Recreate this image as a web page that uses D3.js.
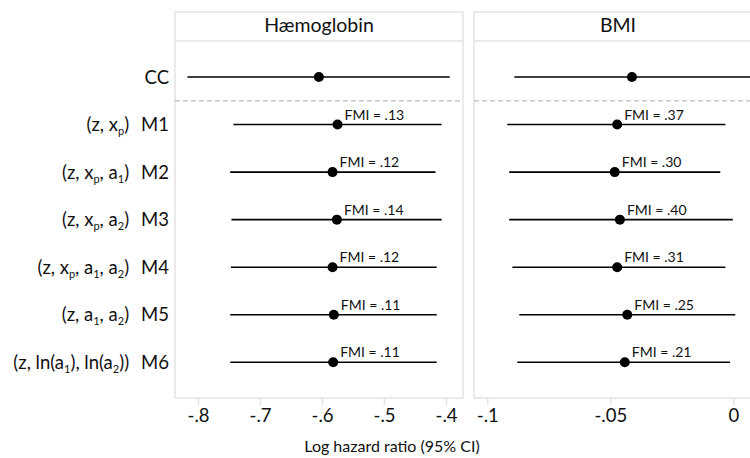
<!DOCTYPE html>
<html>
<head>
<meta charset="utf-8">
<script src="https://cdn.jsdelivr.net/npm/d3@7"></script>
<style>
  html, body { margin: 0; padding: 0; background: #fff; }
  svg { display: block; font-family: Lato, "Open Sans", sans-serif; }
</style>
</head>
<body>
<div id="chart"></div>
<script>
// Model labels: prefix parts (with subscripts) and model name
const rowLabels = [
  { parts: [], name: "CC" },
  { parts: [["(z, x", ""], ["p", "sub"], [")", ""]], name: "M1" },
  { parts: [["(z, x", ""], ["p", "sub"], [", a", ""], ["1", "sub"], [")", ""]], name: "M2" },
  { parts: [["(z, x", ""], ["p", "sub"], [", a", ""], ["2", "sub"], [")", ""]], name: "M3" },
  { parts: [["(z, x", ""], ["p", "sub"], [", a", ""], ["1", "sub"], [", a", ""], ["2", "sub"], [")", ""]], name: "M4" },
  { parts: [["(z, a", ""], ["1", "sub"], [", a", ""], ["2", "sub"], [")", ""]], name: "M5" },
  { parts: [["(z, ln(a", ""], ["1", "sub"], ["), ln(a", ""], ["2", "sub"], ["))", ""]], name: "M6" }
];
const models = ["CC", "M1", "M2", "M3", "M4", "M5", "M6"];

// Haemoglobin: estimate, lower, upper, FMI
const hbEst   = [-0.605, -0.575, -0.583, -0.576, -0.583, -0.581, -0.582];
const hbLow   = [-0.817, -0.743, -0.748, -0.746, -0.747, -0.748, -0.748];
const hbHigh  = [-0.394, -0.407, -0.417, -0.407, -0.415, -0.415, -0.415];
const hbFmi   = [null, ".13", ".12", ".14", ".12", ".11", ".11"];

// BMI: estimate, lower, upper, FMI
const bmiEst  = [-0.0412, -0.0472, -0.0482, -0.0461, -0.0472, -0.0431, -0.0441];
const bmiLow  = [-0.0890, -0.0919, -0.0911, -0.0911, -0.0898, -0.0870, -0.0878];
const bmiHigh = [0.0070, -0.0032, -0.0053, -0.0002, -0.0032, 0.0008, -0.0013];
const bmiFmi  = [null, ".37", ".30", ".40", ".31", ".25", ".21"];

const hbTicks  = [-0.8, -0.7, -0.6, -0.5, -0.4];
const hbTickLabels = ["-.8", "-.7", "-.6", "-.5", "-.4"];
const bmiTicks = [-0.1, -0.05, 0];
const bmiTickLabels = ["-.1", "-.05", "0"];

const W = 750, H = 458;
const panelTop = 12, stripH = 29, panelBottom = 398;
const borderColor = "#e3e3e3";

const svg = d3.select("#chart").append("svg")
  .attr("width", W).attr("height", H);

const y = d3.scaleLinear().domain([0, 6]).range([77, 362.3]);

const panels = [
  { title: "Hæmoglobin", x0: 175, x1: 463,
    x: d3.scaleLinear().domain([-0.8, -0.4]).range([198, 446]),
    est: hbEst, low: hbLow, high: hbHigh, fmi: hbFmi,
    ticks: hbTicks, tickLabels: hbTickLabels },
  { title: "BMI", x0: 474, x1: 762,
    x: d3.scaleLinear().domain([-0.1, 0]).range([487.3, 733.3]),
    est: bmiEst, low: bmiLow, high: bmiHigh, fmi: bmiFmi,
    ticks: bmiTicks, tickLabels: bmiTickLabels }
];

panels.forEach(p => {
  const g = svg.append("g");
  // panel frame
  g.append("rect")
    .attr("x", p.x0).attr("y", panelTop)
    .attr("width", p.x1 - p.x0).attr("height", panelBottom - panelTop)
    .attr("fill", "#fff").attr("stroke", borderColor).attr("stroke-width", 1.5);
  // strip
  g.append("line")
    .attr("x1", p.x0).attr("x2", p.x1)
    .attr("y1", panelTop + stripH).attr("y2", panelTop + stripH)
    .attr("stroke", borderColor).attr("stroke-width", 1.5);
  g.append("text")
    .attr("x", (p.x0 + p.x1) / 2)
    .attr("y", panelTop + stripH / 2 + 1)
    .attr("text-anchor", "middle").attr("dominant-baseline", "middle")
    .attr("font-size", 19.5).attr("fill", "#111")
    .text(p.title);

  // separator between complete-case and imputation models
  g.append("line")
    .attr("x1", p.x0).attr("x2", p.x1)
    .attr("y1", (y(0) + y(1)) / 2).attr("y2", (y(0) + y(1)) / 2)
    .attr("stroke", "#bdbdbd").attr("stroke-width", 1.2)
    .attr("stroke-dasharray", "5,3");

  // x axis
  const axis = d3.axisBottom(p.x)
    .tickValues(p.ticks)
    .tickFormat((d, i) => p.tickLabels[i])
    .tickSize(7).tickPadding(4);
  const ax = g.append("g").attr("transform", `translate(0,${panelBottom})`).call(axis);
  ax.select(".domain").remove();
  ax.selectAll(".tick line").attr("stroke", borderColor).attr("stroke-width", 1.5);
  ax.selectAll(".tick text")
    .attr("font-size", 18.5).attr("fill", "#111")
    .attr("font-family", "Lato, sans-serif");

  // intervals
  g.selectAll(".ci").data(models).join("line")
    .attr("x1", (d, i) => p.x(p.low[i])).attr("x2", (d, i) => p.x(p.high[i]))
    .attr("y1", (d, i) => y(i)).attr("y2", (d, i) => y(i))
    .attr("stroke", "#000").attr("stroke-width", 1.6);
  g.selectAll(".pt").data(models).join("circle")
    .attr("cx", (d, i) => p.x(p.est[i])).attr("cy", (d, i) => y(i))
    .attr("r", 5).attr("fill", "#000");
  g.selectAll(".fmi").data(models.filter((d, i) => p.fmi[i] !== null)).join("text")
    .attr("x", d => p.x(p.est[models.indexOf(d)]) + 7)
    .attr("y", d => y(models.indexOf(d)) - 5)
    .attr("font-size", 14).attr("fill", "#111")
    .text(d => "FMI = " + p.fmi[models.indexOf(d)]);
});

// row labels, right-aligned against the first panel
const lab = svg.append("g");
const subShift = 4;
rowLabels.forEach((r, i) => {
  const t = lab.append("text")
    .attr("x", 169).attr("y", y(i) + 6.5)
    .attr("text-anchor", "end")
    .attr("font-size", 18.5).attr("fill", "#111");
  let shifted = false;
  r.parts.forEach(([s, kind]) => {
    const ts = t.append("tspan").text(s);
    if (kind === "sub") {
      ts.attr("font-size", 11);
      if (!shifted) { ts.attr("dy", subShift); shifted = true; }
    } else if (shifted) {
      ts.attr("dy", -subShift); shifted = false;
    }
  });
  const nm = t.append("tspan").text(r.name);
  if (r.parts.length) nm.attr("dx", 12);
});

// axis title
svg.append("text")
  .attr("x", 392).attr("y", 452)
  .attr("text-anchor", "middle")
  .attr("font-size", 16).attr("fill", "#111")
  .text("Log hazard ratio (95% CI)");
</script>
</body>
</html>
